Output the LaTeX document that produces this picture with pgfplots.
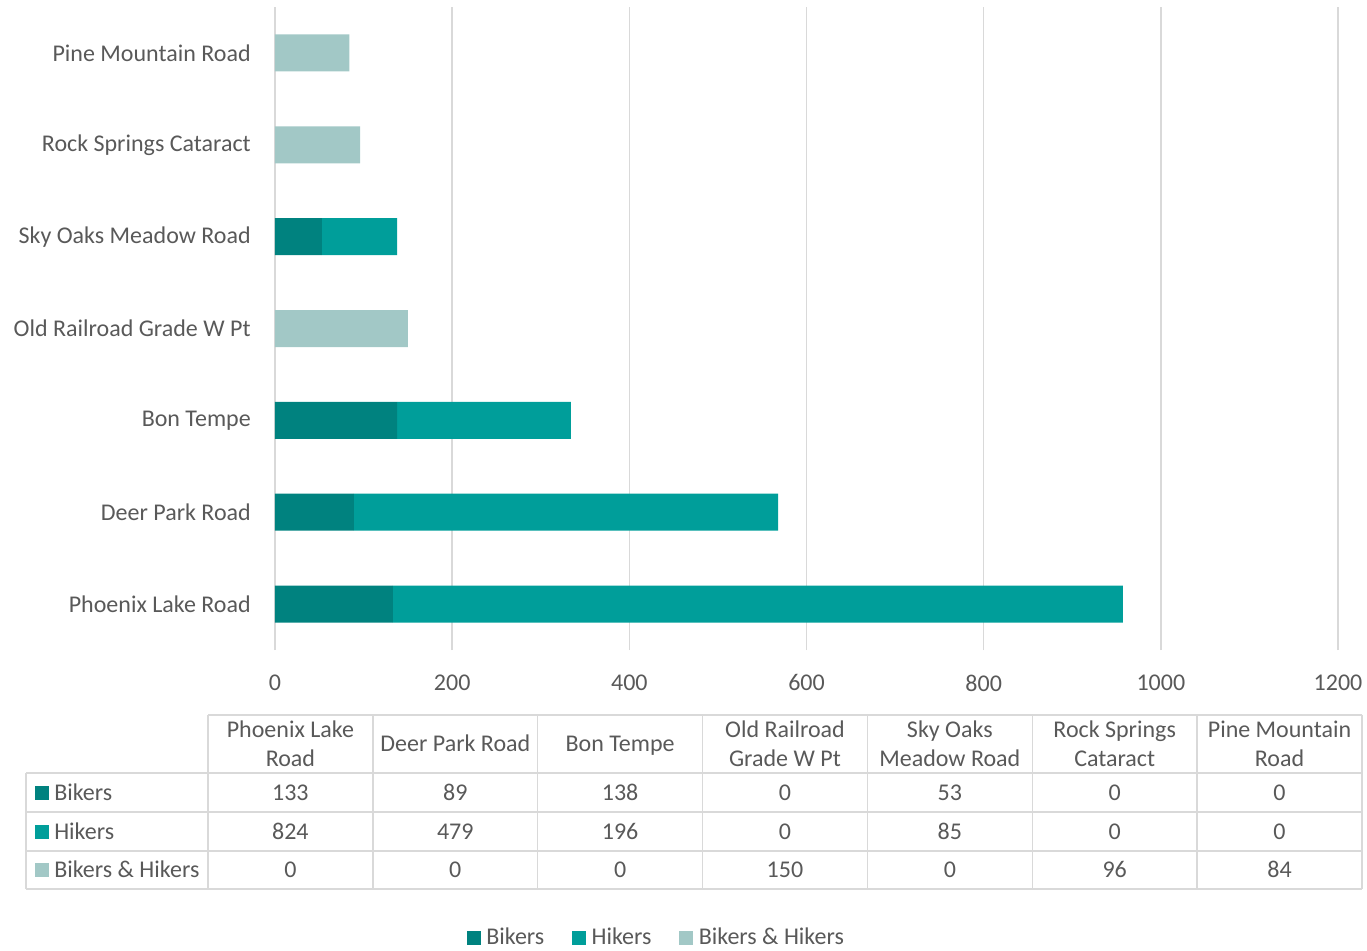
\documentclass[border=0pt]{standalone}
\usepackage{fontspec}
\setmainfont{Carlito}
\usepackage{pgfplots}
\pgfplotsset{compat=1.18}
\newlength\px \setlength\px{0.75pt}
\definecolor{cBik}{HTML}{00827F}
\definecolor{cHik}{HTML}{009E9A}
\definecolor{cBH}{HTML}{A2C8C6}
\definecolor{gridc}{HTML}{D9D9D9}
\definecolor{txt}{HTML}{595959}
\newcommand\tfont{\fontsize{18}{21}\selectfont}
\begin{document}
\tfont
\begin{tikzpicture}[x=\px,y=\px]
\path[use as bounding box] (0,0) rectangle (1367,950);
\begin{axis}[
  at={(275\px,300\px)}, anchor=south west, scale only axis,
  width=1063\px, height=643\px,
  xbar stacked, bar width=37\px,
  xmin=0, xmax=1200, ymin=-0.5, ymax=6.5,
  xtick={0,200,...,1200}, ytick={0,...,6},
  yticklabels={Phoenix Lake Road, Deer Park Road, Bon Tempe, Old Railroad Grade W Pt, Sky Oaks Meadow Road, Rock Springs Cataract, Pine Mountain Road},
  xmajorgrids, grid style={gridc, line width=1.5\px},
  axis line style={draw=none}, major tick length=0pt,
  /pgf/number format/assume math mode=true,
  /pgf/number format/1000 sep={},
  tick label style={font=\tfont, text=txt, inner sep=0pt},
  yticklabel style={anchor=east, xshift=-24\px},
  xticklabel style={anchor=north, yshift=-24.5\px},
  legend style={at={(0.359,-0.448)}, anchor=center, draw=none, fill=none,
    legend columns=3, font=\tfont, text=txt,
    /tikz/every odd column/.append style={column sep=3\px},
    /tikz/every even column/.append style={column sep=25\px}},
  legend image code/.code={\fill[#1] (0,-7\px) rectangle (14\px,7\px);},
]
\addplot[fill=cBik, draw=none] coordinates {(133,0) (89,1) (138,2) (0,3) (53,4) (0,5) (0,6)};
\addplot[fill=cHik, draw=none] coordinates {(824,0) (479,1) (196,2) (0,3) (85,4) (0,5) (0,6)};
\addplot[fill=cBH, draw=none] coordinates {(0,0) (0,1) (0,2) (150,3) (0,4) (96,5) (84,6)};
\legend{Bikers, Hikers, Bikers \& Hikers}
\end{axis}
\begin{scope}[every node/.style={text=txt, inner sep=0pt, font=\tfont}]
 \draw[gridc, line width=1.5\px] (208,235) -- (1362,235);
 \foreach \y in {177,138,99,61} \draw[gridc, line width=1.5\px] (26,\y) -- (1362,\y);
 \draw[gridc, line width=1.5\px] (26,177) -- (26,61);
 \foreach \i in {0,...,7} \draw[gridc, line width=1.5\px] ({208+164.857*\i},235) -- ({208+164.857*\i},61);
 \foreach \i/\a/\b in {0/Phoenix Lake/Road, 3/Old Railroad/Grade W Pt, 4/Sky Oaks/Meadow Road, 5/Rock Springs/Cataract, 6/Pine Mountain/Road} {
   \node[anchor=base] at ({290.4+164.857*\i},212) {\a};
   \node[anchor=base] at ({290.4+164.857*\i},184) {\b};
 }
 \node[anchor=base] at (455.3,198) {Deer Park Road};
 \node[anchor=base] at (620.1,198) {Bon Tempe};
 \foreach \v [count=\i from 0] in {133,89,138,0,53,0,0} \node[anchor=base] at ({290.4+164.857*\i},150) {\v};
 \foreach \v [count=\i from 0] in {824,479,196,0,85,0,0} \node[anchor=base] at ({290.4+164.857*\i},111) {\v};
 \foreach \v [count=\i from 0] in {0,0,0,150,0,96,84} \node[anchor=base] at ({290.4+164.857*\i},73) {\v};
 \fill[cBik] (35,150) rectangle (49,164);
 \fill[cHik] (35,111) rectangle (49,125);
 \fill[cBH] (35,73) rectangle (49,87);
 \node[anchor=base west] at (54,150) {Bikers};
 \node[anchor=base west] at (54,111) {Hikers};
 \node[anchor=base west] at (54,73) {Bikers \& Hikers};
\end{scope}
\end{tikzpicture}
\end{document}
